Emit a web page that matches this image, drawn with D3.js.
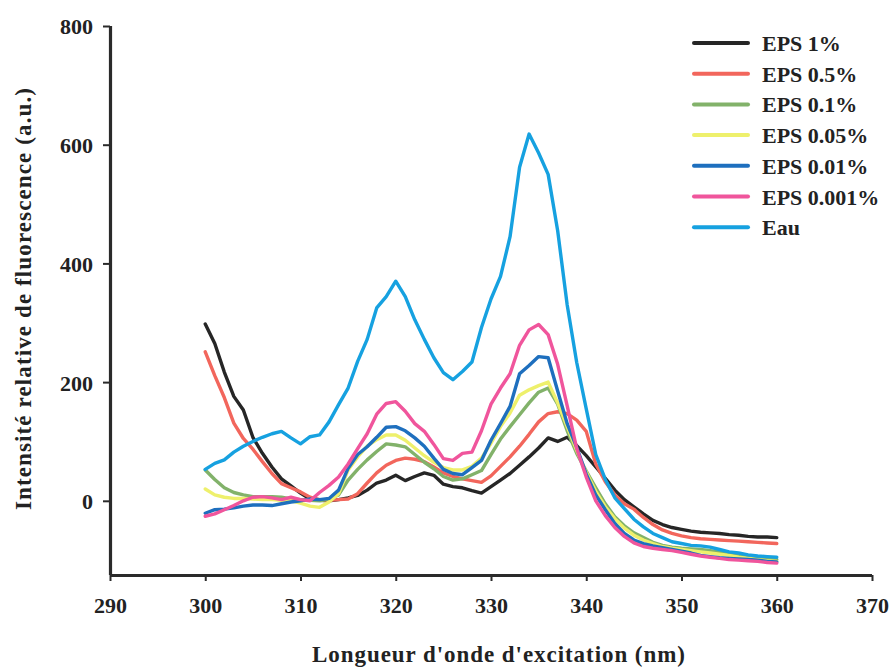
<!DOCTYPE html>
<html>
<head>
<meta charset="utf-8">
<script src="https://cdn.jsdelivr.net/npm/d3@7"></script>
<style>
  html, body { margin: 0; padding: 0; background: #fff; }
  svg { display: block; }
  text { font-family: "Liberation Serif", "Times New Roman", serif; font-weight: bold; fill: #222; }
</style>
</head>
<body>
<svg id="chart" width="894" height="671"></svg>
<script>
// ---- data ----
const wavelengths = [300,301,302,303,304,305,306,307,308,309,310,311,312,313,314,315,316,317,318,319,320,
  321,322,323,324,325,326,327,328,329,330,331,332,333,334,335,336,337,338,339,340,
  341,342,343,344,345,346,347,348,349,350,351,352,353,354,355,356,357,358,359,360];

const eps1 = [298,265,217,176,153,107,80,57,37,25,13,3,1,0,2,5,9,18,30,35,43,
  34,41,47,43,28,24,22,17,13,24,35,46,60,74,89,106,100,107,93,76,
  57,38,18,2,-10,-22,-33,-40,-45,-48,-51,-53,-54,-55,-57,-58,-60,-61,-61,-62];

const eps05 = [251,211,174,131,105,87,66,46,29,22,15,6,2,1,2,3,12,30,47,60,68,
  72,70,66,57,47,41,37,34,31,42,58,74,92,112,133,147,150,147,136,117,
  62,32,10,-5,-14,-28,-40,-49,-55,-59,-62,-64,-65,-66,-67,-68,-69,-70,-71,-72];

const eps01 = [52,36,22,14,10,7,7,7,6,3,2,1,0,3,10,35,53,69,83,96,94,
  91,78,65,54,41,35,37,44,51,78,104,125,145,165,183,190,163,118,80,50,
  22,-5,-27,-42,-54,-62,-70,-75,-78,-80,-81,-82,-84,-86,-89,-92,-94,-96,-98,-99];

const eps005 = [20,10,6,4,4,3,2,2,1,0,-4,-9,-11,-2,12,52,74,92,103,111,111,
  102,89,76,65,56,52,52,58,72,97,125,148,178,187,194,200,165,125,85,48,
  16,-10,-30,-46,-58,-66,-72,-77,-80,-82,-84,-86,-88,-90,-92,-95,-97,-99,-101,-102];

const eps001 = [-21,-15,-14,-12,-9,-7,-7,-8,-5,-2,0,3,2,4,18,55,78,91,107,124,125,
  118,106,92,72,53,46,44,56,68,102,130,159,214,228,243,241,185,130,90,45,
  10,-15,-38,-55,-66,-72,-76,-79,-82,-85,-88,-92,-94,-96,-97,-98,-99,-100,-102,-103];

const eps0001 = [-26,-22,-15,-8,0,6,7,5,2,6,2,0,14,26,40,62,88,113,146,164,167,
  151,130,117,95,71,68,80,82,118,163,190,214,262,288,297,280,230,160,88,40,
  0,-25,-45,-60,-71,-77,-80,-82,-84,-87,-90,-93,-95,-97,-99,-100,-101,-102,-104,-105];

const eau = [53,63,69,82,92,100,107,113,117,106,96,108,111,133,162,190,235,272,325,344,370,
  344,305,272,241,216,204,218,234,292,340,378,445,562,618,586,550,455,330,233,155,
  78,36,5,-13,-31,-44,-55,-62,-69,-72,-75,-76,-78,-82,-86,-88,-91,-93,-94,-95];

const seriesNames = ["EPS 1%", "EPS 0.5%", "EPS 0.1%", "EPS 0.05%", "EPS 0.01%", "EPS 0.001%", "Eau"];
const seriesColors = ["#262626", "#f2665c", "#82b26a", "#eef06c", "#1e6fbe", "#f0559c", "#16a1e0"];
const seriesValues = [eps1, eps05, eps01, eps005, eps001, eps0001, eau];

const xTicks = [290, 300, 310, 320, 330, 340, 350, 360, 370];
const yTicks = [0, 200, 400, 600, 800];
const xTitle = "Longueur d'onde d'excitation (nm)";
const yTitle = "Intensité relative de fluorescence (a.u.)";

// ---- drawing ----
const svg = d3.select("#chart");
const x = d3.scaleLinear().domain([290, 370]).range([110, 872]);
const y = d3.scaleLinear().domain([-125, 800]).range([575, 26]);

// lines
const line = d3.line()
  .x((d, i) => x(wavelengths[i]))
  .y(d => y(d));

const drawOrder = [0, 1, 2, 3, 4, 5, 6];
drawOrder.forEach(k => {
  svg.append("path")
    .datum(seriesValues[k])
    .attr("d", line)
    .attr("fill", "none")
    .attr("stroke", seriesColors[k])
    .attr("stroke-width", 3.4)
    .attr("stroke-linejoin", "round")
    .attr("stroke-linecap", "round");
});

// axes
const xAxis = d3.axisBottom(x).tickValues(xTicks).tickSize(6).tickPadding(16).tickFormat(d3.format("d"));
const yAxis = d3.axisLeft(y).tickValues(yTicks).tickSize(7).tickPadding(10).tickFormat(d3.format("d"));

const gx = svg.append("g").attr("transform", "translate(0,575)").call(xAxis);
const gy = svg.append("g").attr("transform", "translate(110,0)").call(yAxis);

[gx, gy].forEach(g => {
  g.select(".domain").attr("stroke", "#2a2a2a").attr("stroke-width", 3.2);
  g.selectAll(".tick line").attr("stroke", "#2a2a2a").attr("stroke-width", 2);
  g.selectAll(".tick text")
    .style("font-family", "'Liberation Serif', serif")
    .style("font-weight", "bold")
    .style("font-size", "22px")
    .attr("fill", "#222");
});
gx.select(".domain").attr("d", "M110,0.5H872");
gy.select(".domain").attr("d", "M0.5,575V26");
gy.selectAll(".tick text").attr("dy", "0.36em");

// axis titles
svg.append("text")
  .attr("x", 312).attr("y", 662)
  .attr("textLength", 373).attr("lengthAdjust", "spacing")
  .style("font-size", "23px")
  .text(xTitle);

svg.append("text")
  .attr("transform", "translate(31,510) rotate(-90)")
  .attr("x", 0).attr("y", 0)
  .attr("textLength", 422).attr("lengthAdjust", "spacing")
  .style("font-size", "23px")
  .text(yTitle);

// legend
const legend = svg.append("g");
seriesNames.forEach((name, i) => {
  const cy = 43 + i * 30.7;
  legend.append("line")
    .attr("x1", 694).attr("x2", 748).attr("y1", cy).attr("y2", cy)
    .attr("stroke", seriesColors[i]).attr("stroke-width", 4).attr("stroke-linecap", "round");
  legend.append("text")
    .attr("x", 762).attr("y", cy + 8)
    .style("font-size", "22px")
    .text(name);
});
</script>
</body>
</html>
